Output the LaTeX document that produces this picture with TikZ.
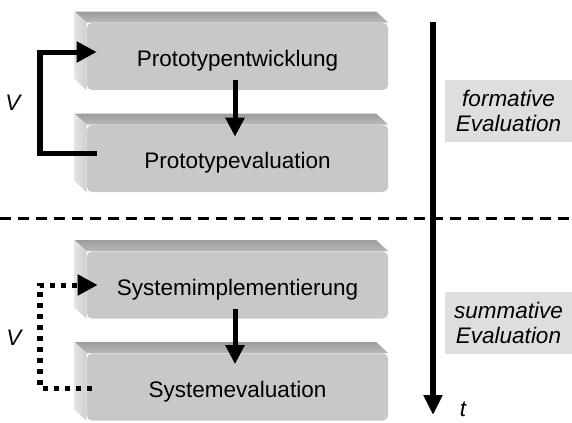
\documentclass[tikz,border=0pt]{standalone}
\usepackage{fontspec}
\setmainfont{Liberation Sans}
\usetikzlibrary{arrows.meta,calc,backgrounds}

\definecolor{faceGray}{HTML}{C8C8C8}
\definecolor{bevelDark}{HTML}{9C9C9C}
\definecolor{bevelMid}{HTML}{B9B9B9}
\definecolor{bevelLight}{HTML}{E4E4E4}
\definecolor{phaseGray}{HTML}{DEDEDE}

\tikzset{stage/.style={fill=faceGray,rounded corners=0.125cm,minimum width=7.525cm,minimum height=1.675cm,inner sep=0cm,text height=0.5cm,text depth=0cm,font=\fontsize{16}{19}\selectfont},
phase/.style={fill=phaseGray,minimum width=3.175cm,minimum height=1.55cm,inner sep=0cm,align=center,font=\fontsize{16}{18}\selectfont\itshape},
loop label/.style={font=\fontsize{16}{19}\selectfont\itshape,inner sep=0cm},
flow arrow/.style={line width=0.125cm,-{Triangle[length=0.48cm,width=0.46cm]}},
loop solid/.style={line width=0.125cm,-{Triangle[length=0.5cm,width=0.5cm]}},
loop dotted/.style={line width=0.125cm,dash pattern=on 0.125cm off 0.15cm,-{Triangle[length=0.5cm,width=0.5cm]}},
time arrow/.style={line width=0.14cm,-{Triangle[length=0.5cm,width=0.45cm]}},
divider/.style={line width=0.075cm,dash pattern=on 0.275cm off 0.175cm}}

% bevel of a block, drawn behind its front face
\newcommand{\blockbevel}[1]{%
\shade [top color=bevelDark,bottom color=bevelMid] ($(#1.north west)+(-12,-11)$) -- ($(#1.north east)+(-12,-11)$) -- (#1.north east) -- (#1.north west) -- cycle;
\shade [left color=bevelLight,right color=faceGray!90!white] ($(#1.north west)+(-12,-11)$) -- (#1.north west) -- (#1.south west) -- ($(#1.south west)+(-12,-11)$) -- cycle;}

\begin{document}
\begin{tikzpicture}[x=0.025cm,y=-0.025cm]
\useasboundingbox (0,0) rectangle (572,422);

%% blocks
\node [stage] (proto) at (237.5,56.5) {Prototypentwicklung};
\node [stage] (proteval) at (237.5,158.5) {Prototypevaluation};
\node [stage] (sysimpl) at (237.5,285) {Systemimplementierung};
\node [stage] (syseval) at (237.5,387) {Systemevaluation};

\begin{scope}[on background layer]
\blockbevel{proto}
\blockbevel{proteval}
\blockbevel{sysimpl}
\blockbevel{syseval}
\end{scope}

%% phase labels
\node [phase] (formative) at (508.5,111) {formative\\Evaluation};
\node [phase] (summative) at (508.5,323) {summative\\Evaluation};

%% coordinates of the free ends
\coordinate (proto out) at ($(proto.south)+(-2.5,-10)$);
\coordinate (proteval in) at ($(proteval.north)+(-2.5,12)$);
\coordinate (sysimpl out) at ($(sysimpl.south)+(-2.5,-10)$);
\coordinate (syseval in) at ($(syseval.north)+(-2.5,11)$);
\coordinate (proteval back) at ($(proteval.west)+(10,-5.5)$);
\coordinate (proto back) at ($(proto.west)+(10,-4.5)$);
\coordinate (syseval back) at ($(syseval.west)+(5,1)$);
\coordinate (sysimpl back) at ($(sysimpl.west)+(11,0)$);
\coordinate (loop1) at (40,100);
\coordinate (loop2) at (40,336);
\coordinate (time top) at (433,22);
\coordinate (time end) at (433,415);
\coordinate (split left) at (0,218);
\coordinate (split right) at (572,218);

%% arrows between blocks
\draw [flow arrow] (proto out) -- (proteval in);
\draw [flow arrow] (sysimpl out) -- (syseval in);

%% loops
\draw [loop solid] (proteval back) -| (loop1) |- (proto back);
\draw [loop dotted] (syseval back) -| (loop2) |- (sysimpl back);
\node [loop label] (v1) at (13,103) {V};
\node [loop label] (v2) at (14,338) {V};

%% time axis and divider
\draw [divider] (split left) -- (split right);
\draw [time arrow] (time top) -- (time end);
\node [loop label] (t) at (463,409) {t};

\end{tikzpicture}
\end{document}
